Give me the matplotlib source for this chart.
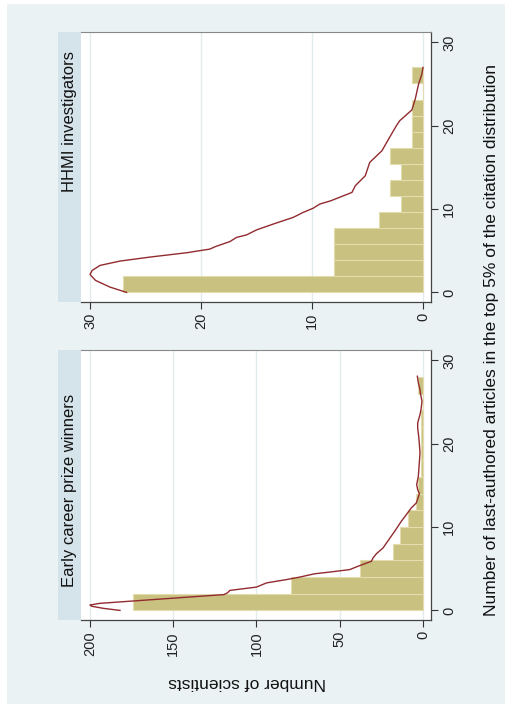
import matplotlib
matplotlib.use("Agg")
import matplotlib.pyplot as plt
from matplotlib.patches import Rectangle
import numpy as np

plt.rcParams['font.family'] = ['Liberation Sans', 'DejaVu Sans']

# histogram frequencies (14 bins each)
hhmi_counts = [27, 8, 8, 8, 4, 2, 3, 2, 3, 1, 1, 1, 0, 1]
hhmi_max = 27
early_counts = [174, 79, 38, 18, 14, 9, 4, 3, 1, 1, 1, 1, 0, 3]
early_max = 28

# kernel density overlay, scaled to counts
hhmi_kd_art = [0.0, 0.64, 1.44, 2.16, 2.64, 3.24, 3.76, 4.24, 4.76, 5.2, 5.5, 6.1,
               6.6, 6.9, 7.5, 8.2, 9.0, 9.6, 10.1, 10.6, 11.0, 12.0, 12.8, 14.0,
               15.6, 17.0, 18.4, 20.0, 20.6, 21.9, 23.2, 25.0, 26.2, 27.0]
hhmi_kd_n = [26.7, 28.2, 29.5, 30.0, 29.8, 29.1, 27.3, 24.6, 21.3, 19.2, 18.7, 17.4,
             16.8, 15.9, 15.0, 13.5, 11.7, 10.8, 9.9, 9.3, 8.3, 6.4, 6.1, 5.2,
             4.8, 3.7, 3.1, 2.4, 2.1, 1.0, 0.7, 0.4, 0.1, 0.0]

early_kd_art = [0.0, 0.25, 0.5, 0.65, 0.85, 1.9, 2.1, 2.4, 2.8, 3.3, 3.7, 4.0, 4.4,
                4.6, 4.9, 5.3, 5.9, 6.3, 6.8, 7.5, 8.5, 9.5, 10.1, 10.7, 11.5, 12.3,
                12.9, 13.5, 14.0, 14.5, 15.1, 16.1, 17.5, 18.9, 20.0, 20.9, 21.9,
                22.5, 23.5, 24.1, 25.1, 26.0, 26.5, 27.3, 28.1]
early_kd_n = [182, 192, 199, 200, 194, 119.5, 117.5, 116, 100, 94, 82, 74, 65,
              56, 44, 39, 31, 30, 28, 24, 20.5, 17, 15, 13, 10, 7,
              4, 3, 2.2, 3.2, 3.8, 2.8, 2.3, 1.8, 2.2, 2.6, 3.2,
              3.2, 1.8, 1.2, 0.6, 1.5, 1.8, 2.8, 3.4]

panels = [
    ("HHMI investigators", hhmi_counts, hhmi_max, hhmi_kd_art, hhmi_kd_n,
     [0, 10, 20, 30], (30.81, -0.72), 32, 192),
    ("Early career prize winners", early_counts, early_max, early_kd_art, early_kd_n,
     [0, 50, 100, 150, 200], (205.4, -4.8), 350, 587),
]

W, H = 510, 704
bg = '#EAF2F3'
strip_col = '#D5E3EA'
bar_col = '#C9C17F'
bar_edge = '#E2DCAE'
line_col = '#922B2F'
grid_col = '#E2ECEF'

fig = plt.figure(figsize=(W / 100, H / 100), dpi=100)
fig.patch.set_facecolor('white')
fig.patches.append(Rectangle((7 / W, 0), 498 / W, 1 - 4 / H, transform=fig.transFigure,
                             facecolor=bg, edgecolor='none', zorder=-10))

for title, counts, vmax, kd_art, kd_n, nticks, xlim, top_px, text_px in panels:
    ax = fig.add_axes([81 / W, 1 - (top_px + 270) / H, 350 / W, 270 / H])
    ax.set_facecolor('white')
    width = vmax / len(counts)
    edges = np.arange(len(counts)) * width
    ax.barh(edges, counts, height=width, align='edge', color=bar_col,
            edgecolor=bar_edge, linewidth=0.8, zorder=2)
    ax.plot(kd_n, kd_art, color=line_col, lw=1.0, zorder=3)

    ax.set_xlim(*xlim)
    ax.set_ylim(-1.15, 31.25)
    ax.set_xticks(nticks)
    ax.set_xticklabels([str(t) for t in nticks], rotation=90, va='top')
    ax.set_yticks([0, 10, 20, 30])
    ax.set_yticklabels(['0', '10', '20', '30'], rotation=90, va='center')
    ax.yaxis.tick_right()
    for t in nticks:
        ax.axvline(t, color=grid_col, lw=1.0, zorder=1)
    ax.tick_params(axis='both', direction='out', length=5, width=0.8,
                   color='#333333', labelsize=10.5, labelcolor='#222222', pad=3)
    for side in ['bottom', 'right']:
        ax.spines[side].set_color('#444444')
        ax.spines[side].set_linewidth(0.9)
    ax.spines['top'].set_color('#888888')
    ax.spines['top'].set_linewidth(0.8)
    ax.spines['left'].set_visible(False)

    # subtitle strip on the left of each panel
    fig.patches.append(Rectangle((58 / W, 1 - (top_px + 270) / H), 23 / W, 270 / H,
                                 transform=fig.transFigure, facecolor=strip_col,
                                 edgecolor='none', zorder=-5))
    fig.text(69.5 / W, 1 - text_px / H, title, rotation=90, ha='center', va='bottom',
             fontsize=12, color='#111111')

fig.text(247 / W, 1 - 682 / H, "Number of scientists", rotation=180,
         ha='center', va='center', fontsize=12.5, color='#111111')
fig.text(492 / W, 1 - 340 / H,
         "Number of last-authored articles in the top 5% of the citation distribution",
         rotation=90, ha='center', va='center', fontsize=12.5, color='#111111')

fig.savefig('out.png', dpi=100)
